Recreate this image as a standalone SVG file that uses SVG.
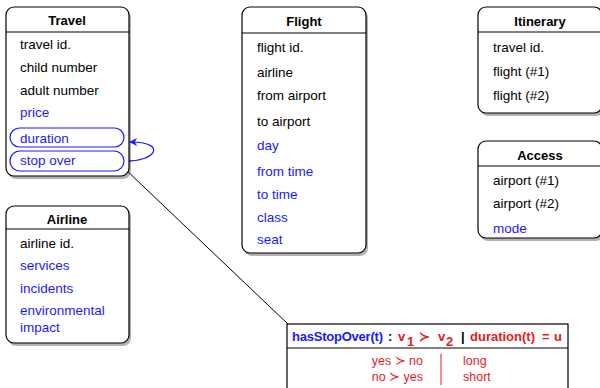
<svg xmlns="http://www.w3.org/2000/svg" width="600" height="388" viewBox="0 0 600 388">
<style>
text{font-family:"Liberation Sans",Arial,Helvetica,sans-serif;font-size:13.5px;fill:#000}
.t{font-weight:bold;text-anchor:middle;font-size:13px}
.b{fill:#1a1aff}
.r{fill:#e51c1c}
.box{fill:#fff;stroke:#000;stroke-width:1.2}
.sh{fill:#000;opacity:0.3}
.hl{stroke:#000;stroke-width:1}
.ov{fill:none;stroke:#1a1aff;stroke-width:1.2}
.h{font-weight:bold;font-size:13px}
.s{font-size:12.5px}
</style>
<defs>
<marker id="ah" viewBox="0 0 10 10" refX="9" refY="5" markerWidth="8" markerHeight="8" orient="auto" markerUnits="userSpaceOnUse">
<path d="M0,0 L10,5 L0,10 L3,5 Z" fill="#1a1aff"/>
</marker>
</defs>
<g id="connectors">
<line x1="124" y1="168" x2="289" y2="325" stroke="#000" stroke-width="1"/>
<path d="M124,161 C156,162 168,142 130,142" fill="none" stroke="#1a1aff" stroke-width="1.2" marker-end="url(#ah)"/>
</g>
<g id="travel">
<rect class="sh" x="8" y="10" width="123" height="169" rx="8"/>
<rect class="box" x="6" y="7" width="123" height="169" rx="8"/>
<line class="hl" x1="6" y1="32" x2="129" y2="32"/>
<text class="t" x="67" y="25">Travel</text>
<text x="20" y="49">travel id.</text>
<text x="20" y="72">child number</text>
<text x="20" y="95">adult number</text>
<text class="b" x="20" y="117">price</text>
<rect class="ov" x="10" y="128" width="114" height="19" rx="9.5"/>
<text class="b" x="20" y="143">duration</text>
<rect class="ov" x="10" y="151" width="114" height="20" rx="10"/>
<text class="b" x="20" y="165">stop over</text>
</g>
<g id="flight">
<rect class="sh" x="244" y="10" width="124" height="246" rx="8"/>
<rect class="box" x="242" y="7" width="124" height="246" rx="8"/>
<line class="hl" x1="242" y1="33" x2="366" y2="33"/>
<text class="t" x="304" y="26">Flight</text>
<text x="257" y="52">flight id.</text>
<text x="257" y="77">airline</text>
<text x="257" y="100">from airport</text>
<text x="257" y="126">to airport</text>
<text class="b" x="257" y="150">day</text>
<text class="b" x="257" y="176">from time</text>
<text class="b" x="257" y="199">to time</text>
<text class="b" x="257" y="222">class</text>
<text class="b" x="257" y="244">seat</text>
</g>
<g id="itinerary">
<rect class="sh" x="480" y="10" width="124" height="106" rx="8"/>
<rect class="box" x="478" y="7" width="124" height="106" rx="8"/>
<line class="hl" x1="478" y1="32" x2="602" y2="32"/>
<text class="t" x="540" y="26">Itinerary</text>
<text x="493" y="52">travel id.</text>
<text x="493" y="76">flight (#1)</text>
<text x="493" y="100">flight (#2)</text>
</g>
<g id="access">
<rect class="sh" x="480" y="144" width="124" height="97" rx="8"/>
<rect class="box" x="478" y="141" width="124" height="97" rx="8"/>
<line class="hl" x1="478" y1="166" x2="602" y2="166"/>
<text class="t" x="540" y="160">Access</text>
<text x="493" y="185">airport (#1)</text>
<text x="493" y="208">airport (#2)</text>
<text class="b" x="493" y="233">mode</text>
</g>
<g id="airline">
<rect class="sh" x="8" y="209" width="123" height="137" rx="8"/>
<rect class="box" x="6" y="206" width="123" height="137" rx="8"/>
<line class="hl" x1="6" y1="229" x2="129" y2="229"/>
<text class="t" x="67" y="224">Airline</text>
<text x="20" y="248">airline id.</text>
<text class="b" x="20" y="270">services</text>
<text class="b" x="20" y="293">incidents</text>
<text class="b" x="20" y="315">environmental</text>
<text class="b" x="20" y="332">impact</text>
</g>
<g id="hasStopOver">
<rect class="box" x="287" y="324" width="281" height="80"/>
<line class="hl" x1="287" y1="348" x2="568" y2="348"/>
<text class="h" x="292" y="341"><tspan class="b" textLength="91">hasStopOver(t)</tspan><tspan x="388">:</tspan><tspan class="r" x="398">v</tspan><tspan class="r" x="407" dy="5">1</tspan><tspan class="r" x="419" dy="-5">≻</tspan><tspan class="r" x="438">v</tspan><tspan class="r" x="446" dy="5">2</tspan><tspan x="461" dy="-5">|</tspan><tspan class="r" x="470">duration(t)</tspan><tspan class="r" x="542">=</tspan><tspan class="r" x="554">u</tspan></text>
<text class="r s" x="423" y="365" style="text-anchor:end">yes ≻ no</text>
<text class="r s" x="423" y="381" style="text-anchor:end">no ≻ yes</text>
<line x1="441" y1="354" x2="441" y2="385" stroke="#e51c1c" stroke-width="1"/>
<text class="r s" x="463" y="365">long</text>
<text class="r s" x="463" y="381">short</text>
</g>
</svg>
